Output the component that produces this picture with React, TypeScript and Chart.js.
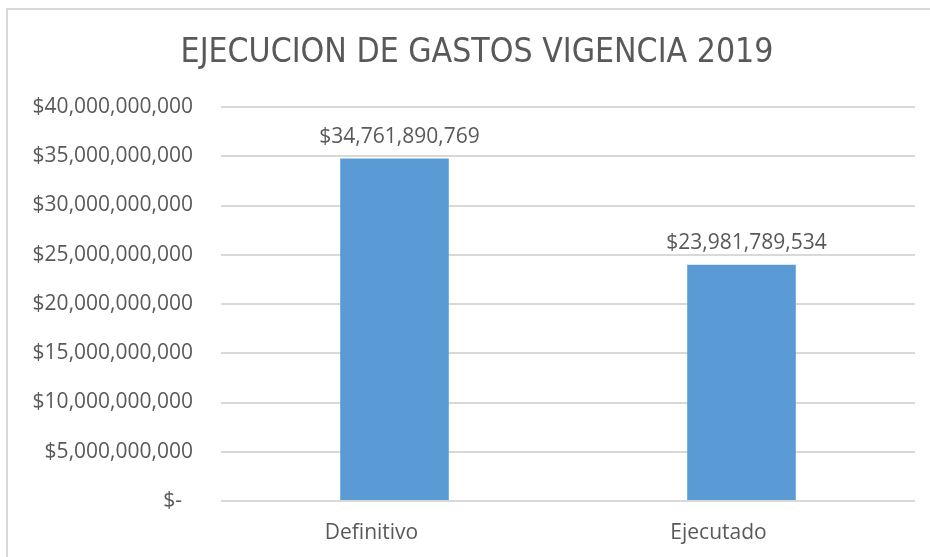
import React, { useEffect, useRef } from "react";
import { Chart, registerables } from "chart.js";

Chart.register(...registerables);

const categories = ["Definitivo", "Ejecutado"];
const values = [34761890769, 23981789534];
const yTicks = [0, 5000000000, 10000000000, 15000000000, 20000000000, 25000000000, 30000000000, 35000000000, 40000000000];
const title = "EJECUCION DE GASTOS VIGENCIA 2019";

const fmt = (v: number) => "$" + Math.round(v).toLocaleString("en-US");

const TEXT = "#595959";
const TICK_FONT = "'Open Sans', sans-serif";
const TITLE_FONT = "'Liberation Sans Narrow', 'DejaVu Sans Condensed', sans-serif";

const dataLabels = {
  id: "dataLabels",
  afterDatasetsDraw(chart: any) {
    const ctx = chart.ctx;
    const meta = chart.getDatasetMeta(0);
    ctx.save();
    ctx.fillStyle = TEXT;
    ctx.font = `21px ${TICK_FONT}`;
    ctx.textAlign = "center";
    ctx.textBaseline = "bottom";
    meta.data.forEach((bar: any, i: number) => {
      ctx.fillText(fmt(values[i]), bar.x + 5, bar.y - 11);
    });
    ctx.restore();
  },
};

const titlePlugin = {
  id: "customTitle",
  afterDraw(chart: any) {
    const ctx = chart.ctx;
    ctx.save();
    ctx.fillStyle = TEXT;
    ctx.font = `33.5px ${TITLE_FONT}`;
    ctx.textAlign = "center";
    ctx.textBaseline = "middle";
    ctx.fillText(title, 477, 53);
    ctx.restore();
  },
};

export default function App() {
  const ref = useRef<HTMLCanvasElement>(null);
  useEffect(() => {
    if (!ref.current) return;
    const chart = new Chart(ref.current, {
      type: "bar",
      data: {
        labels: categories,
        datasets: [
          {
            data: values,
            backgroundColor: "#5b9bd5",
            categoryPercentage: 1,
            barPercentage: 0.313,
          },
        ],
      },
      options: {
        responsive: false,
        animation: false,
        layout: { padding: { left: 0, right: 15, top: 107, bottom: 0 } },
        plugins: {
          legend: { display: false },
          tooltip: { enabled: false },
          title: { display: false },
        },
        scales: {
          x: {
            grid: { display: false, drawTicks: false },
            border: { display: false },
            ticks: { color: TEXT, font: { family: TICK_FONT, size: 21 }, padding: 19, labelOffset: -23 },
            afterFit: (s: any) => { s.height = 56; },
          },
          y: {
            min: 0,
            max: 40000000000,
            afterBuildTicks: (s: any) => { s.ticks = yTicks.map((v) => ({ value: v })); },
            grid: { color: "#d9d9d9", lineWidth: 2, drawTicks: false },
            border: { display: false },
            ticks: {
              color: TEXT,
              font: { family: TICK_FONT, size: 21 },
              padding: 28,
              callback: (v: any) => (Number(v) === 0 ? "$-  " : fmt(Number(v))),
            },
            afterFit: (s: any) => { s.width = 221; },
          },
        },
      },
      plugins: [dataLabels, titlePlugin],
    });
    return () => chart.destroy();
  }, []);
  return (
    <div style={{ position: "absolute", left: 0, top: 0, width: 930, height: 557, background: "#fff" }}>
      <div style={{ position: "absolute", left: 6, top: 8, right: 0, bottom: -10, borderLeft: "2px solid #d9d9d9", borderTop: "2px solid #d9d9d9" }} />
      <canvas ref={ref} width={930} height={557} style={{ position: "absolute", left: 0, top: 0 }} />
    </div>
  );
}
